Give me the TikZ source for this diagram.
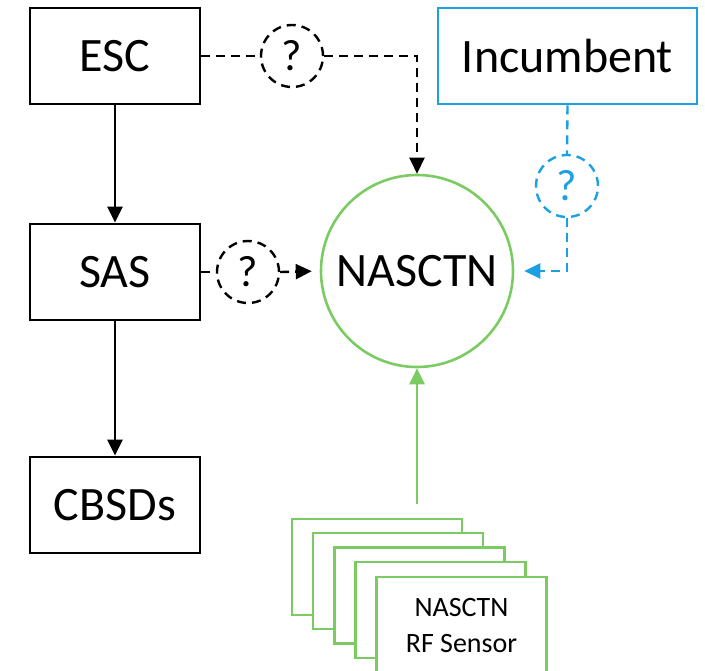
\documentclass[tikz,border=0pt]{standalone}
\usepackage{fontspec}
\setmainfont{Carlito}
\usetikzlibrary{arrows.meta}
\definecolor{incblue}{RGB}{27,161,226}
\definecolor{nasgreen}{RGB}{122,204,98}
\begin{document}
\begin{tikzpicture}[x=0.5pt, y=-0.5pt,
    box/.style={draw, line width=1.4pt, minimum width=85pt, minimum height=48pt, inner sep=0pt, font=\fontsize{24}{29}\selectfont},
    qmark/.style={draw, circle, dash pattern=on 4.5pt off 3pt, line width=1.2pt, minimum size=31pt, inner sep=0pt, font=\fontsize{22}{26}\selectfont},
    sensorbox/.style={draw=nasgreen, fill=white, line width=1.3pt, minimum width=85pt, minimum height=48pt, inner sep=0pt, align=center, font=\fontsize{14}{18}\selectfont},
    tip/.style={-{Triangle[length=8pt,width=7.5pt]}},
    link/.style={line width=1.2pt, dash pattern=on 4.5pt off 3pt}]
    \useasboundingbox (0,0) rectangle (705,670);
    % Boxes
    \node[box] (esc) at (115,56) {ESC};
    \node[box] (sas) at (115,272) {SAS};
    \node[box] (cbsd) at (115,505) {CBSDs};
    \node[box, draw=incblue, minimum width=129.5pt] (inc) at (567.5,56) {Incumbent};
    \node[draw=nasgreen, circle, line width=1.3pt, minimum size=96pt, inner sep=0pt, font=\fontsize{24}{29}\selectfont] (nasctn) at (417,271) {NASCTN};
    % Question marks
    \node[qmark] (q1) at (292,56) {?};
    \node[qmark] (q2) at (248,272) {?};
    \node[qmark, draw=incblue, text=incblue] (q3) at (567,186) {?};
    % Sensors
    \node[sensorbox] (s1) at (377,567) {};
    \node[sensorbox] (s2) at (398,581) {};
    \node[sensorbox] (s3) at (419.5,595.5) {};
    \node[sensorbox] (s4) at (440.5,610) {};
    \node[sensorbox] (s5) at (461.5,625) {NASCTN\\RF Sensor};
    \coordinate (feed) at (417,504);
    % Links
    \draw[tip, line width=1.4pt] (esc) -- (sas);
    \draw[tip, line width=1.4pt] (sas) -- (cbsd);
    \draw[link] (esc.east) -- (q1.west);
    \draw[link, tip] (q1.east) -| (nasctn.north);
    \draw[link] (sas.east) -- (q2.west);
    \draw[link, tip, shorten >=4pt] (q2.east) -- (nasctn.west);
    \draw[link, incblue] (inc.south) -- (q3.north);
    \draw[link, incblue, tip, shorten >=5pt] (q3.south) |- (nasctn.east);
    \draw[tip, nasgreen, line width=1.4pt] (feed) -- (nasctn.south);
\end{tikzpicture}
\end{document}
